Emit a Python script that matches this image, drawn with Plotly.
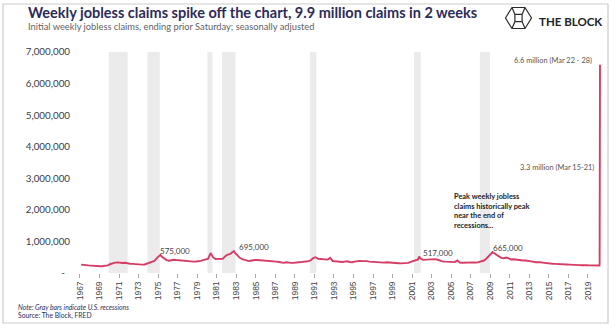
import plotly.graph_objects as go
import pandas as pd

# ---- data -------------------------------------------------------------
first_year = 1967
# initial weekly jobless claims, thousands; one value per quarter (Q1..Q4)
quarterly_claims_k = [
    [265, 250, 255, 240],  # 1967
    [235, 225, 230, 220],  # 1968
    [215, 220, 225, 240],  # 1969
    [285, 320, 330, 335],  # 1970
    [320, 315, 325, 305],  # 1971
    [295, 290, 280, 275],  # 1972
    [260, 265, 270, 295],  # 1973
    [330, 340, 380, 470],  # 1974
    [540, 520, 450, 410],  # 1975
    [390, 410, 420, 410],  # 1976
    [400, 405, 395, 380],  # 1977
    [370, 365, 360, 365],  # 1978
    [370, 385, 410, 425],  # 1979
    [450, 630, 500, 440],  # 1980
    [440, 430, 450, 530],  # 1981
    [580, 600, 650, 640],  # 1982
    [540, 480, 440, 410],  # 1983
    [390, 380, 400, 410],  # 1984
    [410, 405, 400, 400],  # 1985
    [395, 390, 390, 380],  # 1986
    [360, 350, 330, 320],  # 1987
    [340, 325, 320, 320],  # 1988
    [320, 340, 345, 365],  # 1989
    [365, 375, 400, 470],  # 1990
    [500, 450, 440, 450],  # 1991
    [440, 425, 480, 380],  # 1992
    [370, 360, 350, 350],  # 1993
    [360, 370, 350, 340],  # 1994
    [360, 380, 385, 375],  # 1995
    [380, 375, 360, 355],  # 1996
    [340, 340, 335, 330],  # 1997
    [330, 340, 330, 320],  # 1998
    [320, 315, 310, 305],  # 1999
    [305, 310, 320, 350],  # 2000
    [380, 415, 430, 460],  # 2001
    [415, 420, 420, 420],  # 2002
    [420, 440, 420, 385],  # 2003
    [370, 360, 360, 350],  # 2004
    [350, 345, 400, 330],  # 2005
    [325, 330, 335, 335],  # 2006
    [340, 335, 330, 350],  # 2007
    [370, 395, 460, 540],  # 2008
    [640, 630, 570, 520],  # 2009
    [480, 470, 490, 460],  # 2010
    [430, 435, 425, 415],  # 2011
    [390, 395, 395, 390],  # 2012
    [370, 360, 340, 350],  # 2013
    [340, 330, 315, 310],  # 2014
    [305, 295, 290, 290],  # 2015
    [285, 280, 275, 270],  # 2016
    [265, 265, 270, 255],  # 2017
    [250, 245, 235, 245],  # 2018
    [240, 240, 240, 240],  # 2019
]
quarter_mid = ["02-15", "05-15", "08-15", "11-15"]

# labelled peaks
peak_weeks = ["1975-03-29", "1982-10-02", "2001-09-22", "2009-03-28"]
peak_claims = [575000, 695000, 517000, 665000]
peak_labels = ["575,000", "695,000", "517,000", "665,000"]

# 2020 weeks, ending with the two record weeks of March
recent_weeks = ["2020-01-11", "2020-02-15", "2020-03-07", "2020-03-14",
                "2020-03-21", "2020-03-28"]
recent_claims = [235000, 240000, 236000, 282000, 3300000, 6600000]

# U.S. recessions (gray bars)
recession_start = ["1969-12-15", "1973-12-01", "1980-01-20", "1981-07-20",
                   "1990-07-15", "2001-03-15", "2007-12-10"]
recession_end = ["1971-11-20", "1975-03-05", "1980-07-25", "1982-12-05",
                 "1991-03-15", "2001-11-20", "2008-12-20"]

tick_years = list(range(1967, 2020, 2))
y_ticks = [0, 1000000, 2000000, 3000000, 4000000, 5000000, 6000000, 7000000]
y_tick_text = ["-\u00a0\u00a0", "1,000,000", "2,000,000", "3,000,000",
               "4,000,000", "5,000,000", "6,000,000", "7,000,000"]

# ---- assemble the weekly series ----------------------------------------
rows = []
for i, q in enumerate(quarterly_claims_k):
    yr = first_year + i
    for md, v in zip(quarter_mid, q):
        rows.append((pd.Timestamp(f"{yr}-{md}"), v * 1000))
rows += [(pd.Timestamp(d), v) for d, v in zip(peak_weeks, peak_claims)]
rows += [(pd.Timestamp(d), v) for d, v in zip(recent_weeks, recent_claims)]
series = pd.DataFrame(rows, columns=["week", "claims"]).sort_values("week")

# ---- layout geometry ----------------------------------------------------
W, H = 616, 333
L, R, T, B = 75, 11, 52, 60
PW, PH = W - L - R, H - T - B


def px(x):
    return (x - L) / PW


def py(y):
    return (H - B - y) / PH


FONT = "Lato"
NAVY = "#2d2b57"
LINE = "#d63d64"

fig = go.Figure()
fig.add_trace(go.Scatter(
    x=series["week"], y=series["claims"], mode="lines",
    line=dict(color=LINE, width=1.9), hoverinfo="skip", showlegend=False,
))

shapes = []
for s, e in zip(recession_start, recession_end):
    shapes.append(dict(type="rect", xref="x", yref="paper", x0=s, x1=e,
                       y0=0, y1=1, fillcolor="#ebebeb", line=dict(width=0),
                       layer="below"))

# outer frame
shapes.append(dict(type="rect", xref="paper", yref="paper",
                   x0=px(3), x1=px(608), y0=py(323), y1=py(4),
                   line=dict(color="#cccccc", width=1.2), layer="below"))

# logo: hexagon with a cube inside
cx, cy, hw, hh = 518.5, 18.0, 13.0, 10.5
hexagon = [(cx - hw, cy), (cx - hw / 2, cy - hh), (cx + hw / 2, cy - hh),
           (cx + hw, cy), (cx + hw / 2, cy + hh), (cx - hw / 2, cy + hh)]
path = "M " + " L ".join(f"{px(a):.5f},{py(b):.5f}" for a, b in hexagon) + " Z"
sq = 3.6
square = [(cx - sq, cy - sq), (cx + sq, cy - sq), (cx + sq, cy + sq), (cx - sq, cy + sq)]
path += " M " + " L ".join(f"{px(a):.5f},{py(b):.5f}" for a, b in square) + " Z"
for (a, b), (c, d) in zip(square, [hexagon[1], hexagon[2], hexagon[4], hexagon[5]]):
    path += f" M {px(a):.5f},{py(b):.5f} L {px(c):.5f},{py(d):.5f}"
shapes.append(dict(type="path", xref="paper", yref="paper", path=path,
                   line=dict(color="#2b2b2b", width=1.2)))

annotations = [
    dict(text="<b>Weekly jobless claims spike off the chart, 9.9 million claims in 2 weeks</b>",
         x=px(26), y=py(12.5), xanchor="left", yanchor="middle",
         font=dict(family=FONT, size=14.5, color=NAVY)),
    dict(text="Initial weekly jobless claims, ending prior Saturday; seasonally adjusted",
         x=px(26), y=py(27), xanchor="left", yanchor="middle",
         font=dict(family=FONT, size=9.3, color="#5f5f66")),
    dict(text="<b>THE BLOCK</b>", x=px(537), y=py(21.5), xanchor="left", yanchor="middle",
         font=dict(family=FONT, size=11.5, color="#222222")),
    dict(text="<i>Note: Gray bars indicate U.S. recessions</i>",
         x=px(16), y=py(306.5), xanchor="left", yanchor="middle",
         font=dict(family=FONT, size=6.8, color=NAVY)),
    dict(text="Source: The Block, FRED",
         x=px(16), y=py(315), xanchor="left", yanchor="middle",
         font=dict(family=FONT, size=6.8, color=NAVY)),
    dict(text="<b>Peak weekly jobless<br>claims historically peak<br>near the end of<br>recessions...</b>",
         x=px(452), y=py(210.5), xanchor="left", yanchor="middle", align="left",
         font=dict(family=FONT, size=7.4, color="#222222")),
]
for a in annotations:
    a.update(xref="paper", yref="paper", showarrow=False)

# value labels tied to the series
peak_shift = [-2, 3, 2, -2]
for d, v, t, sh in zip(peak_weeks, peak_claims, peak_labels, peak_shift):
    annotations.append(dict(x=d, y=v, xref="x", yref="y", text=t, showarrow=False,
                            xanchor="left", yanchor="middle", xshift=sh, yshift=4,
                            font=dict(family=FONT, size=8, color="#444444")))
annotations.append(dict(x=recent_weeks[-1], y=recent_claims[-1], xref="x", yref="y",
                        text="6.6 million (Mar 22 - 28)", showarrow=False,
                        xanchor="right", yanchor="middle", xshift=-6, yshift=4,
                        font=dict(family=FONT, size=7.4, color="#555555")))
annotations.append(dict(x=recent_weeks[-2], y=recent_claims[-2], xref="x", yref="y",
                        text="3.3 million (Mar 15-21)", showarrow=False,
                        xanchor="right", yanchor="middle", xshift=-4, yshift=1,
                        font=dict(family=FONT, size=7.4, color="#555555")))

fig.update_layout(
    width=W, height=H, margin=dict(l=L, r=R, t=T, b=B),
    paper_bgcolor="white", plot_bgcolor="white",
    shapes=shapes, annotations=annotations,
    xaxis=dict(type="date", range=["1966-07-01", "2020-10-01"],
               tickvals=[f"{y}-01-01" for y in tick_years],
               ticktext=[str(y) for y in tick_years],
               tickangle=-90, ticks="outside", ticklen=4, tickcolor="#aaaaaa",
               showgrid=False, zeroline=False, showline=False,
               tickfont=dict(family="Liberation Sans", size=8.5, color="#444444")),
    yaxis=dict(range=[0, 7000000], tickvals=y_ticks, ticktext=y_tick_text,
               showgrid=False, zeroline=False, showline=False, ticks="",
               ticklabelstandoff=4,
               tickfont=dict(family=FONT, size=9.8, color="#3a3a4a")),
)

fig.write_html("out.html")
